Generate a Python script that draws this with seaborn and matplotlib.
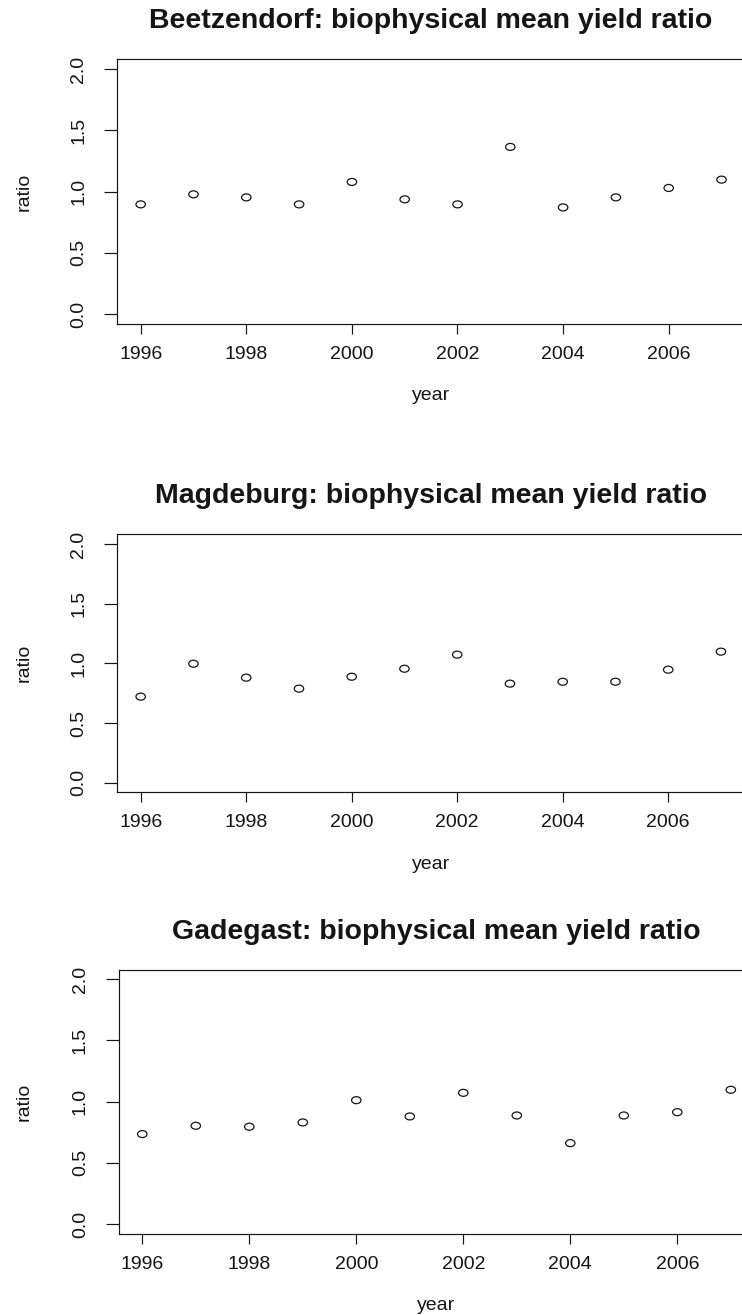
import matplotlib
matplotlib.use("Agg")
import matplotlib.pyplot as plt
import numpy as np
import pandas as pd
import seaborn as sns
from matplotlib.path import Path
from matplotlib.transforms import Affine2D

# ---------------- data ----------------
years = [1996, 1997, 1998, 1999, 2000, 2001, 2002, 2003, 2004, 2005, 2006, 2007]
beetzendorf = [0.895, 0.977, 0.952, 0.895, 1.078, 0.936, 0.895, 1.364, 0.870, 0.952, 1.029, 1.097]
magdeburg = [0.721, 0.997, 0.880, 0.788, 0.888, 0.955, 1.073, 0.830, 0.846, 0.846, 0.947, 1.098]
gadegast = [0.735, 0.803, 0.795, 0.830, 1.012, 0.879, 1.072, 0.887, 0.661, 0.887, 0.914, 1.097]
titles = ["Beetzendorf: biophysical mean yield ratio",
          "Magdeburg: biophysical mean yield ratio",
          "Gadegast: biophysical mean yield ratio"]
x_ticks = [1996, 1998, 2000, 2002, 2004, 2006]
y_ticks = [0.0, 0.5, 1.0, 1.5, 2.0]
y_tick_labels = ["0.0", "0.5", "1.0", "1.5", "2.0"]
x_label = "year"
y_label = "ratio"
series = [beetzendorf, magdeburg, gadegast]

# ---------------- style ----------------
sns.set_style("ticks")
plt.rcParams["font.family"] = ["Liberation Sans", "DejaVu Sans"]
INK = "#151515"

W, H, DPI = 742, 1315, 100
fig = plt.figure(figsize=(W / DPI, H / DPI), dpi=DPI)
fig.patch.set_facecolor("white")

# layout in pixels: (x of 1996, px per year, y of 2.0, y of 0.0)
layout = [(140.7, 52.8, 69.0, 314.0),
          (140.7, 52.75, 544.0, 782.7),
          (142.3, 53.5, 979.3, 1224.0)]
XLIM = (1995.56, 2007.44)
YLIM = (-0.08, 2.08)

ellipse = Path.unit_circle().transformed(Affine2D().scale(1.35, 1.0))

for vals, title, (x96, ppy, y2, y0) in zip(series, titles, layout):
    left_px = x96 - (1996 - XLIM[0]) * ppy
    width_px = (XLIM[1] - XLIM[0]) * ppy
    ppu = (y0 - y2) / 2.0
    top_px = y2 - (YLIM[1] - 2.0) * ppu
    height_px = (YLIM[1] - YLIM[0]) * ppu
    ax = fig.add_axes([left_px / W, 1 - (top_px + height_px) / H,
                       width_px / W, height_px / H])
    df = pd.DataFrame({"year": years, "ratio": vals})
    sns.scatterplot(data=df, x="year", y="ratio", ax=ax, marker=ellipse,
                    s=46, facecolors="none", edgecolor=INK, linewidth=0.9,
                    legend=False)
    ax.set_xlim(*XLIM)
    ax.set_ylim(*YLIM)
    ax.set_xticks(x_ticks)
    ax.set_xticklabels([str(t) for t in x_ticks])
    ax.set_yticks(y_ticks)
    ax.set_yticklabels(y_tick_labels, rotation=90, va="center")
    for sp in ax.spines.values():
        sp.set_visible(True)
        sp.set_color(INK)
        sp.set_linewidth(0.85)
    ax.tick_params(axis="x", direction="out", length=7.2, width=0.85,
                   color=INK, labelcolor=INK, labelsize=14, pad=8.5,
                   top=False)
    ax.tick_params(axis="y", direction="out", length=9.6, width=0.85,
                   color=INK, labelcolor=INK, labelsize=14, pad=12.0,
                   right=False)
    ax.set_xlabel(x_label, fontsize=14, color=INK, va="baseline")
    ax.xaxis.set_label_coords(0.5, -76.5 / height_px)
    ax.set_ylabel(y_label, fontsize=14, color=INK, va="baseline")
    ax.yaxis.set_label_coords(-(left_px - 29) / width_px, 0.5)
    ax.set_title(title, fontsize=20.5, fontweight="bold", color=INK,
                 y=1 + 31 / height_px, pad=0, va="baseline")
    ax.grid(False)

fig.savefig("out.png", dpi=DPI, facecolor="white")
